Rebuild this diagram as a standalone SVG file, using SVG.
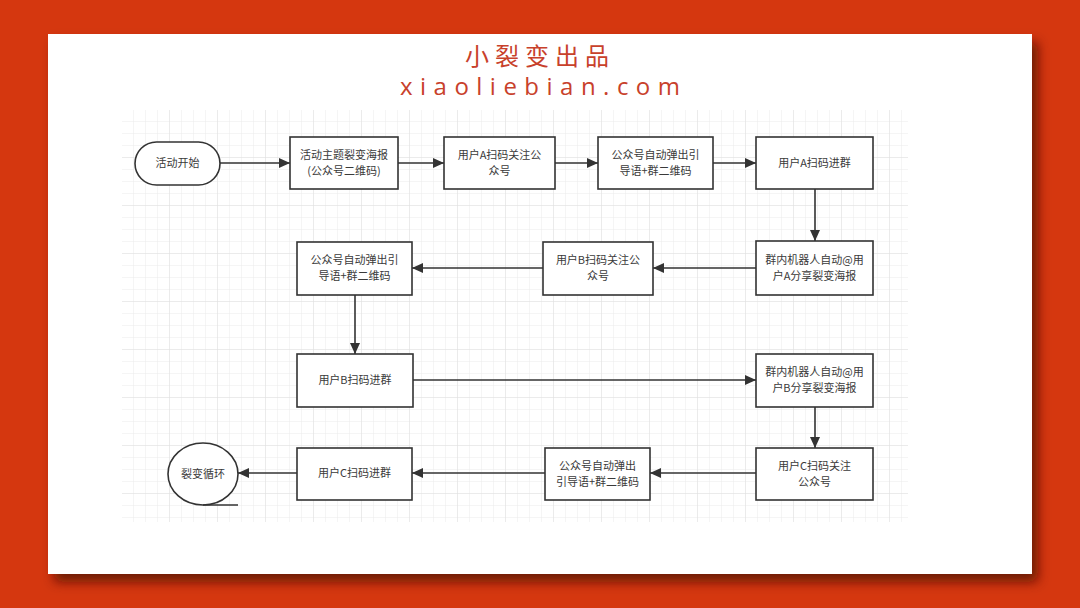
<svg xmlns="http://www.w3.org/2000/svg" width="1080" height="608" viewBox="0 0 1080 608">
<defs>
<style>
.box{fill:#fff;stroke:#333;stroke-width:1.6}
.t{font-family:"Noto Sans CJK SC","Noto Sans",sans-serif;font-size:11px;fill:#3a3a3a;text-anchor:middle}
.c{fill:none;stroke:#333;stroke-width:1.6;marker-end:url(#ah)}
.title{font-family:"Noto Sans CJK SC","Noto Sans",sans-serif;fill:#C8412B;text-anchor:middle}
</style>
<marker id="ah" markerUnits="userSpaceOnUse" markerWidth="12" markerHeight="10" refX="11" refY="5" orient="auto">
<path d="M0,0 L11,5 L0,10 Z" fill="#333"/>
</marker>
<pattern id="minor" width="12" height="12" patternUnits="userSpaceOnUse" x="122" y="110">
<path d="M12,0 V12 M0,12 H12" fill="none" stroke="#ebebeb" stroke-width="1"/>
</pattern>
<pattern id="major" width="48" height="48" patternUnits="userSpaceOnUse" x="122" y="110">
<path d="M48,0 V48 M0,48 H48" fill="none" stroke="#e0e0e0" stroke-width="1"/>
</pattern>
<filter id="sh" x="-5%" y="-5%" width="115%" height="120%">
<feDropShadow dx="6" dy="8" stdDeviation="6" flood-color="#4a0c00" flood-opacity="0.75"/>
</filter>
</defs>
<rect x="0" y="0" width="1080" height="608" fill="#D5370F"/>
<rect x="48" y="34" width="984" height="540" fill="#fff" filter="url(#sh)"/>
<g id="grid">
<rect x="122" y="110" width="786" height="412" fill="url(#minor)"/>
<rect x="122" y="110" width="786" height="412" fill="url(#major)"/>
</g>
<g id="title">
<text class="title" x="540" y="65" font-size="24" letter-spacing="6">小裂变出品</text>
<text class="title" x="400" y="95" font-size="24" textLength="280" lengthAdjust="spacing" style="text-anchor:start;font-family:'Open Sans','Noto Sans',sans-serif">xiaoliebian.com</text>
</g>
<g id="connectors">
<path class="c" d="M220,163 H290"/>
<path class="c" d="M398,163 H444"/>
<path class="c" d="M555,163 H598"/>
<path class="c" d="M713,163 H756"/>
<path class="c" d="M815,189 V241"/>
<path class="c" d="M756,268 H653"/>
<path class="c" d="M543,268 H412"/>
<path class="c" d="M355,295 V354"/>
<path class="c" d="M413,380 H756"/>
<path class="c" d="M815,407 V448"/>
<path class="c" d="M756,473 H650"/>
<path class="c" d="M545,473 H412"/>
<path class="c" d="M297,473 H238"/>
</g>
<g id="start">
<rect class="box" x="135" y="142" width="85" height="43" rx="21.5"/>
<text class="t" x="177.5" y="167">活动开始</text>
</g>
<g id="poster">
<rect class="box" x="290" y="137" width="108" height="52"/>
<text class="t" x="344" y="159">活动主题裂变海报</text>
<text class="t" x="344" y="175">(公众号二维码)</text>
</g>
<g id="a-follow">
<rect class="box" x="444" y="137" width="111" height="52"/>
<text class="t" x="499.5" y="159">用户A扫码关注公</text>
<text class="t" x="499.5" y="175">众号</text>
</g>
<g id="a-guide">
<rect class="box" x="598" y="137" width="115" height="52"/>
<text class="t" x="655.5" y="159">公众号自动弹出引</text>
<text class="t" x="655.5" y="175">导语+群二维码</text>
</g>
<g id="a-join">
<rect class="box" x="756" y="137" width="117" height="52"/>
<text class="t" x="814.5" y="167">用户A扫码进群</text>
</g>
<g id="a-share">
<rect class="box" x="756" y="241" width="117" height="54"/>
<text class="t" x="814.5" y="264">群内机器人自动@用</text>
<text class="t" x="814.5" y="280">户A分享裂变海报</text>
</g>
<g id="b-follow">
<rect class="box" x="543" y="242" width="110" height="53"/>
<text class="t" x="598" y="264">用户B扫码关注公</text>
<text class="t" x="598" y="280">众号</text>
</g>
<g id="b-guide">
<rect class="box" x="297" y="242" width="115" height="53"/>
<text class="t" x="354.5" y="264">公众号自动弹出引</text>
<text class="t" x="354.5" y="280">导语+群二维码</text>
</g>
<g id="b-join">
<rect class="box" x="297" y="354" width="116" height="53"/>
<text class="t" x="355" y="384">用户B扫码进群</text>
</g>
<g id="b-share">
<rect class="box" x="756" y="354" width="117" height="53"/>
<text class="t" x="814.5" y="376">群内机器人自动@用</text>
<text class="t" x="814.5" y="392">户B分享裂变海报</text>
</g>
<g id="c-follow">
<rect class="box" x="756" y="448" width="117" height="52"/>
<text class="t" x="814.5" y="470">用户C扫码关注</text>
<text class="t" x="814.5" y="486">公众号</text>
</g>
<g id="c-guide">
<rect class="box" x="545" y="448" width="105" height="52"/>
<text class="t" x="597.5" y="470">公众号自动弹出</text>
<text class="t" x="597.5" y="486">引导语+群二维码</text>
</g>
<g id="c-join">
<rect class="box" x="297" y="448" width="115" height="52"/>
<text class="t" x="354.5" y="477">用户C扫码进群</text>
</g>
<g id="loop">
<ellipse class="box" cx="203" cy="474" rx="35" ry="31"/>
<path d="M203,505 H238" fill="none" stroke="#333" stroke-width="1.6"/>
<text class="t" x="203" y="478">裂变循环</text>
</g>
</svg>
